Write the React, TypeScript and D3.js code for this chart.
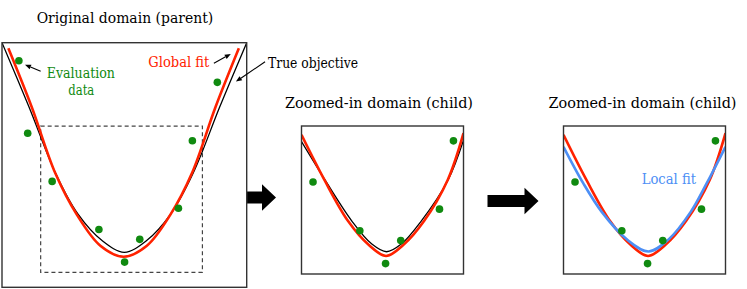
import React, { Component, createRef } from "react";
import * as d3 from "d3";

// parent units: the parent box spans 0..100 on both axes
const trueX = [0, 11, 21.9, 31, 41, 50, 59, 69, 78.1, 89, 100];
const trueY = [100, 73.8, 46.6, 30.0, 19.0, 14.3, 19.0, 30.0, 46.6, 73.8, 100];
const globalX = [2.6, 12.1, 21.8, 30.7, 40.2, 49.7, 59.2, 68.7, 77.6, 87.3, 96.8];
const globalY = [97.7, 73.8, 46.6, 29.5, 17.0, 12.5, 17.0, 29.5, 46.6, 73.8, 97.7];

// zoomed-in region (dashed box)
const zoomX = [15.8, 81.9];
const zoomY = [6.1, 65.9];

// curves as drawn inside the child panels
const childTrueX = [15.8, 25.4, 36.5, 44.5, 50.5, 56.5, 64.5, 75.6, 81.9];
const childTrueY = [59.6, 44.1, 27.3, 18.2, 15.1, 18.2, 27.3, 44.1, 60.2];
const childGlobalX = [15.8, 25.15, 34.8, 43.3, 50.3, 57.3, 65.8, 75.45, 81.9];
const childGlobalY = [62.3, 44.1, 27.5, 17.8, 13.4, 17.8, 27.5, 44.1, 63.0];
const localX = [15.8, 23.9, 31.4, 41.5, 50.5, 58.8, 67.7, 74.2, 81.9];
const localY = [57.5, 42.7, 31.2, 20.2, 15.2, 20.2, 31.2, 42.7, 57.5];

// evaluation data
const evalX = [6.9, 10.5, 20.5, 39.6, 50.1, 56.3, 72.1, 77.8, 88.0];
const evalY = [92.6, 63.0, 43.3, 23.6, 10.3, 19.6, 32.3, 59.9, 83.8];

const RED = "#ff2200";
const BLUE = "#4d8ff5";
const GREEN = "#108a10";
// the only serif face available here; squeezed to Times-like widths below
const FONT = "DejaVu Serif";

class App extends Component {
  svgRef = createRef<SVGSVGElement>();

  componentDidMount() {
    const svg = d3.select(this.svgRef.current);
    svg.selectAll("*").remove();

    const parentBox = { x: 2, y: 42.7, w: 244.7, h: 244.6 };
    const child1Box = { x: 301.5, y: 126, w: 162, h: 148 };
    const child2Box = { x: 563.5, y: 126, w: 162, h: 148 };

    // big block arrows (under the boxes)
    const block = (x0: number, cy: number) => {
      const len = 51, head = 14, sh = 6, hh = 13.3;
      const p = d3.path();
      p.moveTo(x0, cy - sh);
      p.lineTo(x0 + len - head, cy - sh);
      p.lineTo(x0 + len - head, cy - hh);
      p.lineTo(x0 + len, cy);
      p.lineTo(x0 + len - head, cy + hh);
      p.lineTo(x0 + len - head, cy + sh);
      p.lineTo(x0, cy + sh);
      p.closePath();
      svg.append("path").attr("d", p.toString()).attr("fill", "#000");
    };
    block(225, 197.5);
    block(487.5, 201);

    const drawPanel = (id: string, box: any, xDom: number[], yDom: number[], curves: any[], extra?: (x: any, y: any) => void) => {
      const x = d3.scaleLinear().domain(xDom).range([box.x, box.x + box.w]);
      const y = d3.scaleLinear().domain(yDom).range([box.y + box.h, box.y]);

      svg.append("clipPath").attr("id", id).append("rect")
        .attr("x", box.x).attr("y", box.y).attr("width", box.w).attr("height", box.h);

      svg.append("rect").attr("x", box.x).attr("y", box.y).attr("width", box.w).attr("height", box.h)
        .attr("fill", "#fff");

      if (extra) extra(x, y);

      const g = svg.append("g").attr("clip-path", `url(#${id})`);
      const line = d3.line<[number, number]>().x(d => x(d[0])).y(d => y(d[1])).curve(d3.curveCatmullRom);
      curves.forEach(c => {
        g.append("path").attr("d", line(d3.zip(c.xs, c.ys) as [number, number][]))
          .attr("fill", "none").attr("stroke", c.color).attr("stroke-width", c.width)
          .attr("stroke-linejoin", "round");
      });

      const dots = d3.range(evalX.length)
        .filter(i => evalX[i] >= xDom[0] && evalX[i] <= xDom[1] && evalY[i] >= yDom[0] && evalY[i] <= yDom[1]);
      g.selectAll("circle").data(dots).join("circle")
        .attr("cx", i => x(evalX[i])).attr("cy", i => y(evalY[i])).attr("r", 3.8).attr("fill", GREEN);

      svg.append("rect").attr("x", box.x).attr("y", box.y).attr("width", box.w).attr("height", box.h)
        .attr("fill", "none").attr("stroke", "#333").attr("stroke-width", 1.4);
      return { x, y };
    };

    const trueCurve = { xs: trueX, ys: trueY, color: "#000", width: 1.3 };
    const globalCurve = { xs: globalX, ys: globalY, color: RED, width: 2.6 };
    const cTrue = { xs: childTrueX, ys: childTrueY, color: "#000", width: 1.3 };
    const cGlobal = { xs: childGlobalX, ys: childGlobalY, color: RED, width: 2.6 };
    const cLocal = { xs: localX, ys: localY, color: BLUE, width: 2.6 };

    const P = drawPanel("clip-parent", parentBox, [0, 100], [0, 100], [trueCurve, globalCurve], (x, y) => {
      // dashed zoom region
      svg.append("rect")
        .attr("x", x(zoomX[0])).attr("y", y(zoomY[1]))
        .attr("width", x(zoomX[1]) - x(zoomX[0])).attr("height", y(zoomY[0]) - y(zoomY[1]))
        .attr("fill", "none").attr("stroke", "#444").attr("stroke-width", 1.2).attr("stroke-dasharray", "4,3");
    });
    drawPanel("clip-child1", child1Box, zoomX, zoomY, [cTrue, cGlobal]);
    drawPanel("clip-child2", child2Box, zoomX, zoomY, [cGlobal, cLocal]);

    // little annotation arrows
    const pointer = (x1: number, y1: number, x2: number, y2: number) => {
      const a = Math.atan2(y2 - y1, x2 - x1);
      const hl = 6, hw = 2.4;
      const bx = x2 - hl * Math.cos(a), by = y2 - hl * Math.sin(a);
      svg.append("line").attr("x1", x1).attr("y1", y1).attr("x2", bx).attr("y2", by)
        .attr("stroke", "#000").attr("stroke-width", 1.1);
      svg.append("path")
        .attr("d", `M${x2},${y2}L${bx - hw * Math.sin(a)},${by + hw * Math.cos(a)}L${bx + hw * Math.sin(a)},${by - hw * Math.cos(a)}Z`)
        .attr("fill", "#000");
    };
    pointer(P.x(15.8), P.y(88.3), P.x(9.4), P.y(91.0));
    pointer(P.x(86.6), P.y(91.6), P.x(93.5), P.y(95.4));
    pointer(P.x(107.5), P.y(92.2), P.x(95.6), P.y(84.1));

    // Labels: left edge, baseline, width, size
    const label = (txt: string, x: number, y: number, w: number, size: number, color: string) =>
      svg.append("text").attr("x", x).attr("y", y).attr("font-family", FONT).attr("font-size", size)
        .attr("textLength", w).attr("lengthAdjust", "spacingAndGlyphs")
        .attr("fill", color).text(txt);

    label("Original domain (parent)", 36.7, 23, 176.5, 15.2, "#000");
    label("Zoomed-in domain (child)", 285, 108.3, 188, 15.2, "#000");
    label("Zoomed-in domain (child)", 548.5, 108.3, 188, 15.2, "#000");
    label("Evaluation", 46.7, 77.5, 68.3, 14.4, GREEN);
    label("data", 68.3, 95, 26, 14.4, GREEN);
    label("Global fit", 148.3, 67, 61, 14.4, RED);
    label("True objective", 268, 68, 90, 14.4, "#000");
    label("Local fit", 641.7, 184, 54.3, 14.4, BLUE);
  }

  render() {
    return (
      <svg ref={this.svgRef} width={747} height={289}
        style={{ position: "absolute", left: 0, top: 0, background: "#fff" }} />
    );
  }
}

export default App;
